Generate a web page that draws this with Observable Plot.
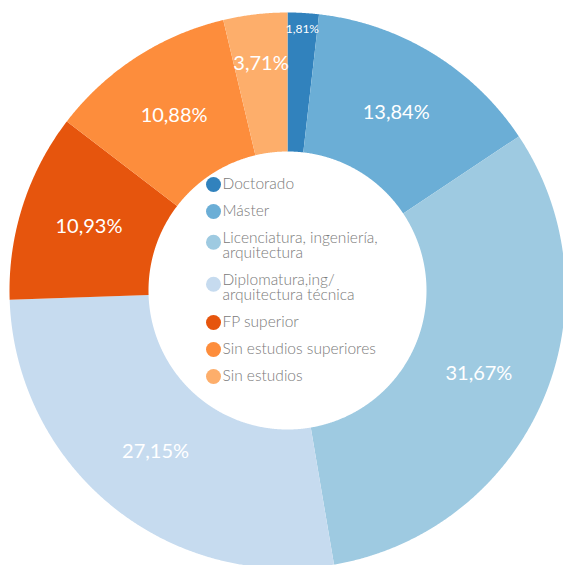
<!DOCTYPE html>
<html>
<head>
<meta charset="utf-8">
<script src="https://cdn.jsdelivr.net/npm/d3@7"></script>
<script src="https://cdn.jsdelivr.net/npm/@observablehq/plot@0.6"></script>
<style>
  html, body { margin: 0; padding: 0; background: #fff; }
  #chart svg { display: block; }
</style>
</head>
<body>
<div id="chart"></div>
<script>
// ---- data ----
const categories = [
  "Doctorado",
  "Máster",
  "Licenciatura, ingeniería,\narquitectura",
  "Diplomatura,ing/\narquitectura técnica",
  "FP superior",
  "Sin estudios superiores",
  "Sin estudios"
];
const values = [1.81, 13.84, 31.67, 27.15, 10.93, 10.88, 3.71];
const palette = ["#3182bd", "#6baed6", "#9ecae1", "#c6dbef", "#e6550d", "#fd8d3c", "#fdae6b"];

// ---- layout ----
const W = 563, H = 565;
const CX = 287, CY = 290, R = 278, INNER = 0.5;
const total = d3.sum(values);

// slices (unit-circle coordinates; y up)
const slices = [];
let acc = 0;
values.forEach((v, i) => {
  const a0 = acc / total * 2 * Math.PI;
  acc += v;
  const a1 = acc / total * 2 * Math.PI;
  const n = Math.max(4, Math.ceil((a1 - a0) / (Math.PI / 720)));
  for (let k = 0; k <= n; k++) {
    const a = a0 + (a1 - a0) * k / n;
    slices.push({cat: categories[i], x: Math.sin(a), y: Math.cos(a)});
  }
  for (let k = n; k >= 0; k--) {
    const a = a0 + (a1 - a0) * k / n;
    slices.push({cat: categories[i], x: INNER * Math.sin(a), y: INNER * Math.cos(a)});
  }
});

// value labels
const labelData = [];
acc = 0;
values.forEach((v, i) => {
  const am = (acc + v / 2) / total * 2 * Math.PI;
  acc += v;
  const r = v < 2 ? 0.94 : v < 5 ? 0.82 : 0.75;
  labelData.push({
    text: v.toFixed(2).replace(".", ",") + "%",
    x: r * Math.sin(am), y: r * Math.cos(am),
    size: v < 2 ? 12 : 20
  });
});

// legend in the hole (pixel layout -> unit coords)
const LEG_X = 213, LEG_Y0 = 184, LEG_STEP = 27, LINE_STEP = 15, LEG_FONT = 15.5;
const legendDots = [], legendTexts = [];
let ly = LEG_Y0;
categories.forEach((c, i) => {
  const n = c.split("\n").length;
  legendDots.push({cat: c, x: (LEG_X - CX) / R, y: (CY - (ly + (n - 1) * LINE_STEP * 0.25)) / R});
  legendTexts.push({text: c, x: (LEG_X + 9 - CX) / R, y: (CY - (ly + (n - 1) * LINE_STEP / 2)) / R});
  ly += LEG_STEP + (n - 1) * LINE_STEP;
});

const chart = Plot.plot({
  width: W,
  height: H,
  margin: 0,
  style: {fontFamily: "Lato, sans-serif", background: "#fff"},
  x: {domain: [-CX / R, (W - CX) / R], axis: null},
  y: {domain: [-(H - CY) / R, CY / R], axis: null},
  color: {domain: categories, range: palette},
  marks: [
    Plot.line(slices, {x: "x", y: "y", z: "cat", fill: "cat", stroke: null, curve: "linear"}),
    Plot.text(labelData, {x: "x", y: "y", text: "text", fill: "white", fontSize: "size",
      fontWeight: 400, textAnchor: "middle", lineAnchor: "middle"}),
    Plot.dot(legendDots, {x: "x", y: "y", r: 7.5, fill: "cat", stroke: null}),
    Plot.text(legendTexts, {x: "x", y: "y", text: "text", fill: "#7a7a7a", fontSize: LEG_FONT,
      fontWeight: 300, lineHeight: LINE_STEP / LEG_FONT, textAnchor: "start", lineAnchor: "middle"})
  ]
});
document.getElementById("chart").append(chart);
</script>
</body>
</html>
